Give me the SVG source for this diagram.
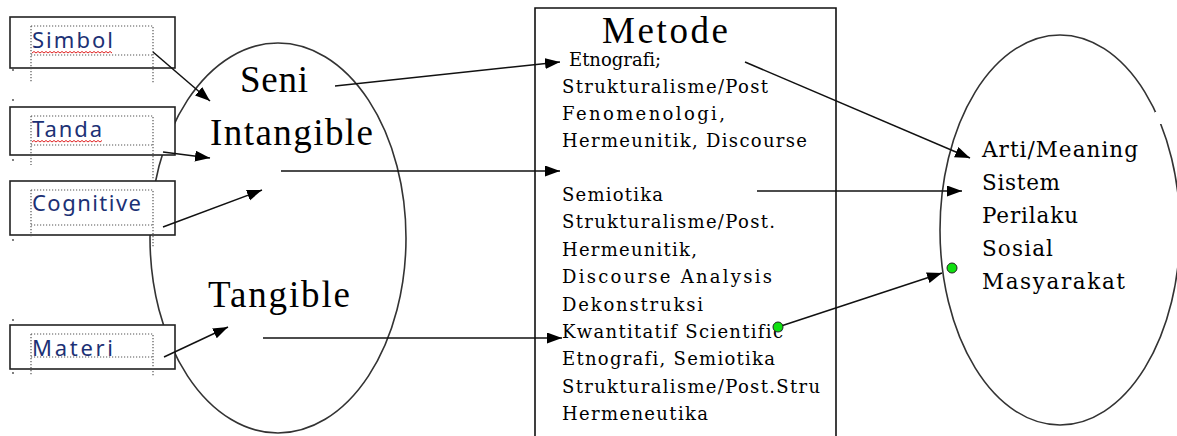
<svg xmlns="http://www.w3.org/2000/svg" width="1177" height="436" viewBox="0 0 1177 436">
<style>
text{font-variant-ligatures:none}
.box{fill:#fff;stroke:#222;stroke-width:1.6}
.dot{fill:none;stroke:#555;stroke-width:1.2;stroke-dasharray:1.2 1.8}
.ell{fill:none;stroke:#333;stroke-width:1.6}
.lbl{font-family:"Noto Sans","Liberation Sans",sans-serif;font-size:22px;fill:#1c3175}
.big{font-family:"Liberation Serif","Times New Roman",serif;font-size:37px;fill:#000}
.mid{font-family:"DejaVu Serif","Liberation Serif",serif;font-size:18px;fill:#000}
.rt{font-family:"DejaVu Serif","Liberation Serif",serif;font-size:21.5px;fill:#000}
.con{fill:none;stroke:#111;stroke-width:1.5;marker-end:url(#ah)}
.sq{fill:none;stroke:#e02020;stroke-width:1}
.gd{fill:#10e010;stroke:#222;stroke-width:1}
</style>
<defs>
<marker id="ah" markerUnits="userSpaceOnUse" markerWidth="16" markerHeight="12" refX="15" refY="5.5" orient="auto">
<path d="M0,0 L15,5.5 L0,11 z" fill="#000"/>
</marker>
</defs>
<rect width="1177" height="436" fill="#fff"/>

<g id="seni-ellipse">
<ellipse class="ell" cx="278" cy="238" rx="128" ry="195"/>
<text class="big" x="240" y="92" textLength="68" lengthAdjust="spacing">Seni</text>
<text class="big" x="210" y="145" textLength="163" lengthAdjust="spacing">Intangible</text>
<text class="big" x="208" y="307" textLength="142" lengthAdjust="spacing">Tangible</text>
</g>

<g id="simbol">
<rect class="box" x="10" y="17" width="165" height="51"/>
<path class="dot" d="M31,26 H153 V83 M31,26 V83 M31,55 H153"/>
<circle cx="13" cy="70" r="0.9" fill="#444"/>
<text class="lbl" x="32" y="48" textLength="81" lengthAdjust="spacing">Simbol</text>
<path class="sq" d="M32,53 l2,-1.5 l2,1.5 l2,-1.5 l2,1.5 l2,-1.5 l2,1.5 l2,-1.5 l2,1.5 l2,-1.5 l2,1.5 l2,-1.5 l2,1.5 l2,-1.5 l2,1.5 l2,-1.5 l2,1.5 l2,-1.5 l2,1.5 l2,-1.5 l2,1.5 l2,-1.5 l2,1.5 l2,-1.5 l2,1.5 l2,-1.5 l2,1.5 l2,-1.5 l2,1.5 l2,-1.5 l2,1.5 l2,-1.5 l2,1.5 l2,-1.5 l2,1.5 l2,-1.5 l2,1.5 l2,-1.5 l2,1.5 l2,-1.5 l2,1.5"/>
</g>

<g id="tanda">
<rect class="box" x="10" y="107" width="165" height="48"/>
<path class="dot" d="M31,116 H153 V180 M31,116 V165 M31,145 H153"/>
<circle cx="13" cy="100" r="0.9" fill="#444"/>
<circle cx="13" cy="160" r="0.9" fill="#444"/>
<text class="lbl" x="32" y="137" textLength="70" lengthAdjust="spacing">Tanda</text>
<path class="sq" d="M32,142 l2,-1.5 l2,1.5 l2,-1.5 l2,1.5 l2,-1.5 l2,1.5 l2,-1.5 l2,1.5 l2,-1.5 l2,1.5 l2,-1.5 l2,1.5 l2,-1.5 l2,1.5 l2,-1.5 l2,1.5 l2,-1.5 l2,1.5 l2,-1.5 l2,1.5 l2,-1.5 l2,1.5 l2,-1.5 l2,1.5 l2,-1.5 l2,1.5 l2,-1.5 l2,1.5 l2,-1.5 l2,1.5 l2,-1.5 l2,1.5 l2,-1.5 l2,1.5 l2,-1.5"/>
</g>

<g id="cognitive">
<rect class="box" x="10" y="181" width="165" height="54"/>
<path class="dot" d="M31,190 H153 V247 M31,190 V237 M31,225 H153"/>
<circle cx="13" cy="240" r="0.9" fill="#444"/>
<text class="lbl" x="32" y="211" textLength="109" lengthAdjust="spacing">Cognitive</text>
</g>

<g id="materi">
<rect class="box" x="10" y="325" width="165" height="44"/>
<path class="dot" d="M31,334 H153 V376 M31,334 V376 M31,357 H153"/>
<circle cx="13" cy="320" r="0.9" fill="#444"/>
<circle cx="13" cy="373" r="0.9" fill="#444"/>
<text class="lbl" x="32" y="356" textLength="81" lengthAdjust="spacing">Materi</text>
</g>

<g id="metode">
<path d="M535,440 V8 H836 V440" fill="#fff" stroke="#111" stroke-width="1.6"/>
<text class="big" x="602" y="43" font-size="35" textLength="126" lengthAdjust="spacing">Metode</text>
<text class="mid" x="569" y="66" font-size="17">Etnografi;</text>
<text class="mid" x="562" y="93" textLength="206" lengthAdjust="spacing">Strukturalisme/Post</text>
<text class="mid" x="562" y="120" textLength="163" lengthAdjust="spacing">Fenomenologi,</text>
<text class="mid" x="562" y="147" textLength="245" lengthAdjust="spacing">Hermeunitik, Discourse</text>
<text class="mid" x="562" y="201" textLength="101" lengthAdjust="spacing">Semiotika</text>
<text class="mid" x="562" y="228" textLength="213" lengthAdjust="spacing">Strukturalisme/Post.</text>
<text class="mid" x="562" y="256" textLength="135" lengthAdjust="spacing">Hermeunitik,</text>
<text class="mid" x="562" y="283" textLength="210" lengthAdjust="spacing">Discourse Analysis</text>
<text class="mid" x="562" y="311" textLength="141" lengthAdjust="spacing">Dekonstruksi</text>
<text class="mid" x="562" y="338" textLength="221" lengthAdjust="spacing">Kwantitatif Scientific</text>
<text class="mid" x="562" y="365" textLength="213" lengthAdjust="spacing">Etnografi, Semiotika</text>
<text class="mid" x="562" y="393" textLength="258" lengthAdjust="spacing">Strukturalisme/Post.Stru</text>
<text class="mid" x="562" y="420" textLength="146" lengthAdjust="spacing">Hermeneutika</text>
</g>

<g id="hasil">
<ellipse class="ell" cx="1060" cy="230" rx="120" ry="195"/>
<rect x="1155" y="112" width="10" height="12" fill="#fff"/>
<text class="rt" x="982" y="157" textLength="156" lengthAdjust="spacing">Arti/Meaning</text>
<text class="rt" x="982" y="190" textLength="78" lengthAdjust="spacing">Sistem</text>
<text class="rt" x="982" y="223" textLength="96" lengthAdjust="spacing">Perilaku</text>
<text class="rt" x="982" y="256" textLength="71" lengthAdjust="spacing">Sosial</text>
<text class="rt" x="982" y="289" textLength="143" lengthAdjust="spacing">Masyarakat</text>
</g>

<g id="connectors">
<line class="con" x1="153" y1="52" x2="210" y2="101"/>
<line class="con" x1="163" y1="152" x2="210" y2="158"/>
<line class="con" x1="163" y1="227" x2="262" y2="190"/>
<line class="con" x1="164" y1="357" x2="228" y2="327"/>
<line class="con" x1="335" y1="86" x2="560" y2="62"/>
<line class="con" x1="281" y1="171" x2="560" y2="171"/>
<line class="con" x1="263" y1="338" x2="562" y2="338"/>
<line class="con" x1="745" y1="62" x2="970" y2="158"/>
<line class="con" x1="757" y1="191" x2="962" y2="191"/>
<line class="con" x1="778" y1="327" x2="942" y2="273"/>
<circle class="gd" cx="778" cy="327" r="5"/>
<circle class="gd" cx="952" cy="268" r="5"/>
</g>
</svg>
